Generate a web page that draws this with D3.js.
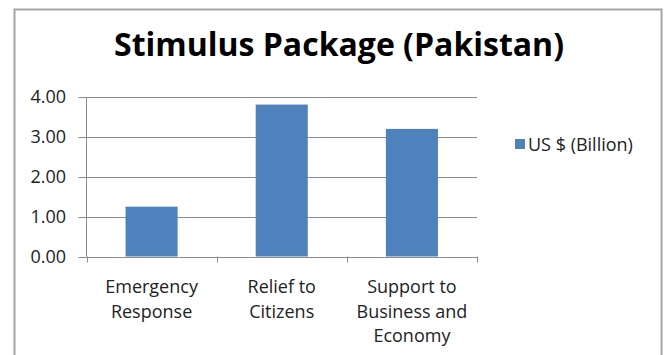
<!DOCTYPE html>
<html><head><meta charset="utf-8">
<script src="https://cdn.jsdelivr.net/npm/d3@7"></script>
<style>body{margin:0;background:#fff}svg{display:block}</style>
</head><body>
<svg id="c" width="668" height="355"></svg>
<script>
const title = "Stimulus Package (Pakistan)";
const categories = [["Emergency","Response"],["Relief to","Citizens"],["Support to","Business and","Economy"]];
const values = [1.25, 3.81, 3.20];
const seriesName = "US $ (Billion)";
const yTicks = [0, 1, 2, 3, 4];

const svg = d3.select("#c");
const font = "'Open Sans', sans-serif";
svg.append("rect").attr("x",14.5).attr("y",9.5).attr("width",647).attr("height",360)
  .attr("fill","#fff").attr("stroke","#a6a6a6").attr("stroke-width",2);

const m = {l:86.5, r:477, t:97, b:256.5};
const x = d3.scaleBand().domain(d3.range(categories.length)).range([m.l, m.r]).paddingInner(0.6).paddingOuter(0.3);
const y = d3.scaleLinear().domain([0,4]).range([m.b, m.t]);

svg.append("text").attr("x",339).attr("y",56).attr("text-anchor","middle")
  .attr("font-family",font).attr("font-weight","bold").attr("font-size",32).attr("fill","#000").text(title);

svg.append("g").selectAll("line").data(yTicks).join("line")
  .attr("x1",m.l-8).attr("x2",m.r).attr("y1",d=>Math.round(y(d))+0.5).attr("y2",d=>Math.round(y(d))+0.5)
  .attr("stroke","#8c8c8c").attr("stroke-width",1);
svg.append("line").attr("x1",m.l).attr("x2",m.l).attr("y1",m.t).attr("y2",m.b).attr("stroke","#8c8c8c");
const band = (m.r-m.l)/categories.length;
svg.append("g").selectAll("line").data(d3.range(categories.length+1)).join("line")
  .attr("x1",d=>Math.round(m.l+d*band)+0.5).attr("x2",d=>Math.round(m.l+d*band)+0.5)
  .attr("y1",m.b).attr("y2",m.b+6).attr("stroke","#8c8c8c");

svg.append("g").selectAll("text").data(yTicks).join("text")
  .attr("x",66).attr("y",d=>y(d)).attr("dy","0.35em").attr("text-anchor","end")
  .attr("font-family",font).attr("font-size",18).attr("fill","#222").text(d=>d3.format(".2f")(d));

svg.append("g").selectAll("rect").data(values).join("rect")
  .attr("x",(d,i)=>x(i)).attr("width",x.bandwidth()).attr("y",d=>y(d)).attr("height",d=>y(0)-y(d))
  .attr("fill","#4f81bd");

const xl = svg.append("g").selectAll("text").data(categories).join("text")
  .attr("x",(d,i)=>x(i)+x.bandwidth()/2).attr("y",293).attr("text-anchor","middle")
  .attr("font-family",font).attr("font-size",18).attr("fill","#222");
xl.selectAll("tspan").data(d=>d).join("tspan")
  .attr("x",function(){return this.parentNode.getAttribute("x");}).attr("dy",(d,i)=>i?24.5:0).text(d=>d);

svg.append("rect").attr("x",515).attr("y",139).attr("width",10).attr("height",10).attr("fill","#4f81bd");
svg.append("text").attr("x",528).attr("y",144.5).attr("dy","0.35em").attr("font-family",font).attr("font-size",18).attr("fill","#222").text(seriesName);
</script></body></html>
